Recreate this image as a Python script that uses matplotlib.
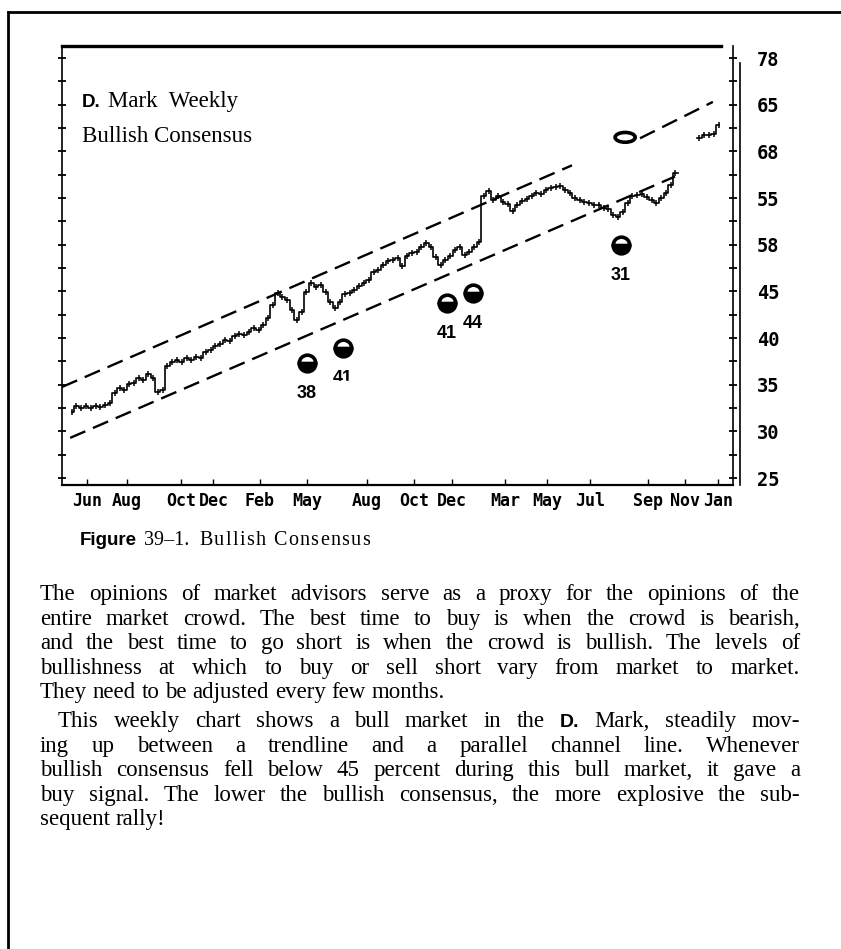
import matplotlib
matplotlib.use("Agg")
import matplotlib.pyplot as plt
import numpy as np
from matplotlib.lines import Line2D
from matplotlib.patches import Ellipse, Rectangle

W, H = 841, 949

# weekly D-Mark closes in US cents, weeks 2..137 (nan = not printed)
weeks = np.arange(2, 138)
closes = [
    32.1, 32.7, 32.5, 32.7, 32.5, 32.7, 32.6, 32.8, 33.0, 34.1,
    34.6, 34.4, 35.1, 35.2, 35.7, 35.5, 36.1, 35.7, 34.2, 34.4,
    37.0, 37.4, 37.6, 37.4, 37.9, 37.6, 38.0, 37.9, 38.5, 38.7,
    39.1, 39.4, 39.8, 39.7, 40.2, 40.4, 40.3, 40.6, 41.1, 40.9,
    41.4, 42.1, 43.5, 44.8, 44.4, 44.1,
    43.0, 41.9, 42.8, 44.9, 45.9, 45.5, 45.7, 44.9, 43.9, 43.2,
    43.9, 44.7, 44.8, 45.1, 45.6, 45.9, 46.2, 47.1, 47.3, 47.8,
    48.2, 48.4, 48.6, 47.7, 48.8, 49.1, 49.2, 49.7, 50.2, 49.8,
    48.7, 47.8, 48.4, 48.8, 49.4, 49.7, 48.9, 49.2, 49.7, 50.3,
    55.2, 55.7, 54.8, 55.2, 54.6, 54.4, 53.6, 54.2, 54.7, 54.9,
    55.2, 55.5, 55.4, 55.9, 56.1, 56.2, 56.3, 55.9, 55.5, 55.0,
    54.8, 54.6, 54.5, 54.3, 54.2, 53.9, 53.8, 53.2, 53.0, 53.5,
    54.5, 55.2, 55.3, 55.4, 55.1, 54.8, 54.5, 55.0, 55.5, 56.4,
    57.7,
    np.nan, np.nan, np.nan, np.nan,
    61.4, 61.7, 61.8, 61.9, 62.8,
]

# channel lines (week, cents at each end)
upper_x, upper_y = [0, 106.4], [34.75, 58.5]
lower_x, lower_y = [1.7, 127.9], [29.3, 57.3]
ext_x, ext_y = [120.6, 135.8], [61.4, 65.3]

# bullish consensus readings at buy signals
sig_weeks = [51.1, 58.6, 80.3, 85.8, 116.6]
sig_price = [37.3, 38.9, 43.75, 44.8, 50.0]
sig_labels = ["38", "41", "41", "44", "31"]
top_week, top_price = 117.5, 61.5

month_pos = [5.2, 13.6, 24.8, 31.6, 41.3, 51.1, 63.6, 73.4, 81.4,
             92.4, 101.2, 110.2, 122.3, 130.0, 136.9]
month_lbl = ["Jun", "Aug", "Oct", "Dec", "Feb", "May", "Aug", "Oct", "Dec",
             "Mar", "May", "Jul", "Sep", "Nov", "Jan"]
price_ticks = [25, 30, 35, 40, 45, 50, 55, 60, 65, 70]
price_lbl = ["25", "30", "35", "40", "45", "58", "55", "68", "65", "78"]

body = [
    "The opinions of market advisors serve as a proxy for the opinions of the",
    "entire market crowd. The best time to buy is when the crowd is bearish,",
    "and the best time to go short is when the crowd is bullish. The levels of",
    "bullishness at which to buy or sell short vary from market to market.",
    "They need to be adjusted every few months.",
    "This weekly chart shows a bull market in the D. Mark, steadily mov-",
    "ing up between a trendline and a parallel channel line. Whenever",
    "bullish consensus fell below 45 percent during this bull market, it gave a",
    "buy signal. The lower the bullish consensus, the more explosive the sub-",
    "sequent rally!",
]
para_end = [4, 9]

SERIF = dict(family="Liberation Serif", fontsize=16.5, color="black")
SANS_B = dict(family="Liberation Sans", fontweight="bold", color="black")
MONO_B = dict(family="DejaVu Sans Mono", fontweight="bold")

fig = plt.figure(figsize=(W / 100, H / 100), dpi=100)
renderer = fig.canvas.get_renderer()


def fx(x):
    return x / W


def fy(y):
    return 1 - y / H


# page frame
fig.add_artist(Line2D([fx(8), fx(8)], [fy(12), 0], lw=2, color="black"))
fig.add_artist(Line2D([fx(8), 1], [fy(12), fy(12)], lw=2, color="black"))

ax = fig.add_axes([fx(62), fy(485), (733 - 62) / W, (485 - 46) / H])
ybot = 25 - (485 - 478) / 9.333
ytop = 25 + (478 - 46) / 9.333
ax.set_xlim(0, 140)
ax.set_ylim(ybot, ytop)

ax.spines["right"].set_visible(False)
ax.spines["top"].set_linewidth(2.4)
ax.spines["top"].set_bounds(0, 137.5)
ax.spines["left"].set_linewidth(1.2)
ax.spines["bottom"].set_linewidth(1.6)

# double rule on the right
ax.plot([140, 140], [ybot, ytop], color="black", lw=1.2, clip_on=False)
ax.plot([141.4, 141.4], [ybot, 69.5], color="black", lw=1.2, clip_on=False)

ax.set_yticks(price_ticks)
ax.set_yticklabels(price_lbl, fontsize=13.5, **MONO_B)
ax.set_yticks(np.arange(27.5, 70, 5), minor=True)
ax.tick_params(axis="y", which="both", left=True, right=True, direction="inout",
               length=6, width=1.3, labelleft=False, labelright=True, pad=14)
ax.set_xticks(month_pos)
ax.set_xticklabels(month_lbl, fontsize=12, **MONO_B)
ax.tick_params(axis="x", direction="in", length=4, width=1, pad=5)

# price bars
ax.step(weeks, closes, where="mid", color="black", lw=1.2)
ax.plot(weeks, closes, ls="none", marker="|", ms=5, mew=1.1, color="black")

dash = (0, (7, 3.5))
for xs, ys in [(upper_x, upper_y), (lower_x, lower_y), (ext_x, ext_y)]:
    ax.plot(xs, ys, color="black", lw=1.7, ls=dash)

ax.add_patch(Ellipse((top_week, top_price), 4.2, 1.05, fill=False,
                     lw=2.6, ec="black"))

for w, p, s in zip(sig_weeks, sig_price, sig_labels):
    ax.plot(w, p, "o", ms=12, fillstyle="bottom", mfc="black",
            markerfacecoloralt="white", mec="black", mew=2.6)
    ax.annotate(s, (w, p), xytext=(0, -22), textcoords="offset points",
                ha="center", va="center", fontsize=13, **SANS_B)

# the second label is partly lost in the print
ax.add_patch(Rectangle((56.2, 32.0), 5.0, 3.4, color="white", zorder=5))

fig.text(fx(82), fy(107), "D.", fontsize=13.5, va="baseline", **SANS_B)
fig.text(fx(108), fy(107), "Mark  Weekly", va="baseline",
         **dict(SERIF, fontsize=16.5))
fig.text(fx(82), fy(142), "Bullish Consensus", va="baseline",
         **dict(SERIF, fontsize=16.5))


def measure(s, **kw):
    t = fig.text(0, 0, s, **kw)
    w = t.get_window_extent(renderer).width
    t.remove()
    return w


def put_words(words, y, x0, x1=None):
    widths = [measure(w, **st) for w, st in words]
    if x1 is None:
        gap = measure("a a", **SERIF) - measure("aa", **SERIF)
    else:
        gap = (x1 - x0 - sum(widths)) / (len(words) - 1)
    x = x0
    for (w, st), wd in zip(words, widths):
        fig.text(fx(x), fy(y), w, va="baseline", ha="left", **st)
        x += wd + gap


def put_tracked(s, y, x0, x1, style):
    widths = [measure(c, **style) if c != " " else
              measure("a a", **style) - measure("aa", **style) for c in s]
    extra = (x1 - x0 - sum(widths)) / (len(s) - 1)
    x = x0
    for c, wd in zip(s, widths):
        if c != " ":
            fig.text(fx(x), fy(y), c, va="baseline", ha="left", **style)
        x += wd + extra


CAP = dict(SERIF, fontsize=14.5)

# caption
fig.text(fx(80), fy(545), "Figure", fontsize=13.5, va="baseline", **SANS_B)
fig.text(fx(144), fy(545), "39\u20131.", va="baseline", **CAP)
put_tracked("Bullish Consensus", 545, 199, 370, CAP)

# body copy, justified
y = 600
for i, line in enumerate(body):
    words = [(w, dict(SANS_B, fontsize=14) if w == "D." else SERIF)
             for w in line.split()]
    x0 = 58 if i == 5 else 40
    last = i in para_end
    put_words(words, y, x0, None if last else 800)
    y += 24.6
    if i == 4:
        y += 4

fig.savefig("out.png", dpi=100)
